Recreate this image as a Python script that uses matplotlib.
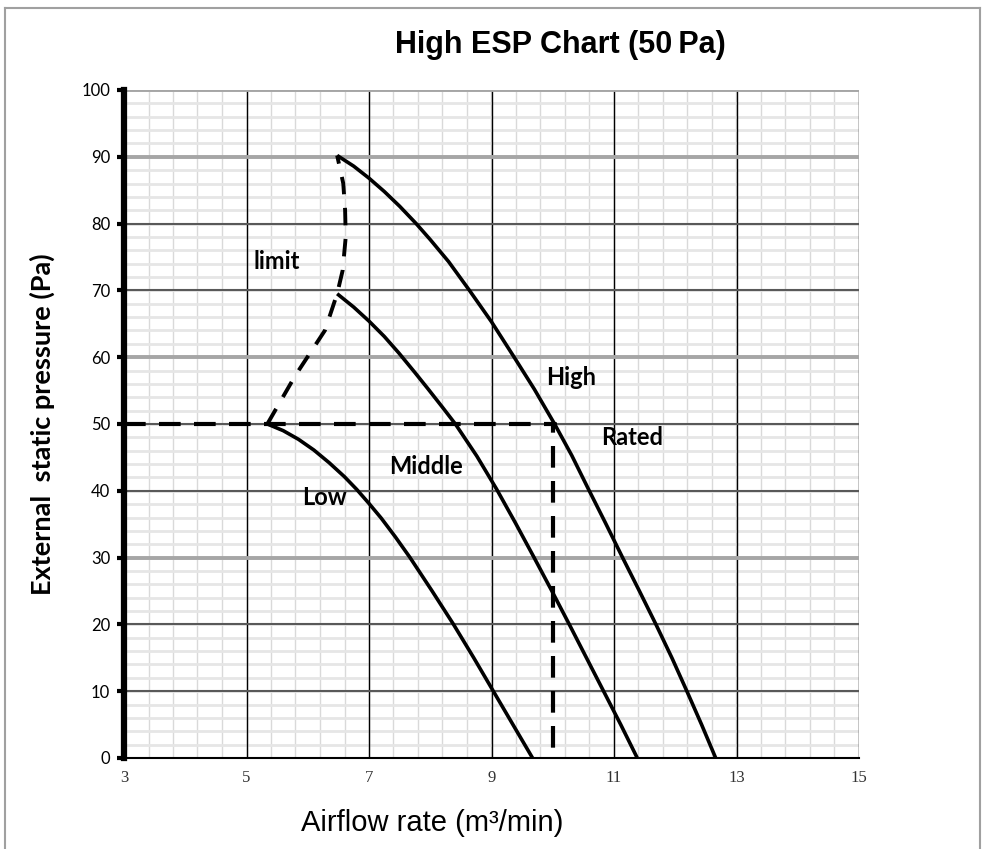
import matplotlib
matplotlib.use('Agg')
import matplotlib.pyplot as plt
from matplotlib.lines import Line2D
import numpy as np

# ---- data ----
high_x = [6.48, 6.75, 7.0, 7.25, 7.5, 7.77, 8.0, 8.3, 8.64, 9.0, 9.37, 9.7, 10.03, 10.31, 10.58, 10.86, 11.14, 11.42, 11.69, 11.95, 12.19, 12.43, 12.66]
high_y = [90.2, 88.6, 86.8, 84.8, 82.6, 80, 77.6, 74.3, 70, 65.3, 60, 55.2, 50, 45.3, 40.3, 35.2, 30, 24.9, 19.9, 14.9, 10, 5, 0]
mid_x = [6.48, 6.75, 7.0, 7.25, 7.49, 7.75, 7.96, 8.2, 8.41, 8.76, 9.08, 9.39, 9.69, 9.98, 10.27, 10.55, 10.83, 11.11, 11.38]
mid_y = [69.5, 67.5, 65.4, 63.1, 60.6, 57.7, 55.3, 52.5, 50, 45.2, 40.3, 35.2, 30.1, 25.1, 20, 15, 10, 5, 0]
low_x = [5.34, 5.6, 5.85, 6.1, 6.35, 6.6, 6.8, 7.0, 7.2, 7.43, 7.67, 8.03, 8.38, 8.71, 9.03, 9.35, 9.67]
low_y = [50, 49.0, 47.7, 46.1, 44.2, 42.1, 40.2, 38.1, 35.9, 33.1, 30, 25, 20, 15, 10, 5, 0]
limit_x = [5.34, 5.8, 6.28, 6.48, 6.57, 6.62, 6.61, 6.58, 6.48]
limit_y = [50, 57.3, 64, 69.5, 73, 78, 82, 86, 90.2]
rated_x = [3, 10.03, 10.0, 10.0]
rated_y = [50, 50, 50, 0]

x_ticks = [3, 5, 7, 9, 11, 13, 15]
y_ticks = [0, 10, 20, 30, 40, 50, 60, 70, 80, 90, 100]
gray_major_y = [30, 60, 90, 100]

labels = [("limit", 5.5, 74.3), ("High", 10.3, 57.0), ("Rated", 11.3, 48.0),
          ("Middle", 7.93, 43.6), ("Low", 6.27, 39.0)]

W, H = 982, 849
fig = plt.figure(figsize=(W / 100, H / 100), dpi=100)
ax = fig.add_axes([124 / W, 1 - 758 / H, (859 - 124) / W, (758 - 90) / H])
ax.set_xlim(3, 15)
ax.set_ylim(0, 100)

# minor grid
for xv in np.arange(3, 15.001, 0.4):
    ax.axvline(xv, color='#d9d9d9', lw=1.0, zorder=0)
for yv in np.arange(0, 100.001, 2):
    ax.axhline(yv, color='#e6e6e6', lw=2.0, zorder=0)
# major grid
for xv in x_ticks[1:]:
    ax.axvline(xv, color='black', lw=1.0, zorder=1)
for yv in y_ticks[1:]:
    if yv in gray_major_y:
        ax.axhline(yv, color='#a6a6a6', lw=2.8, zorder=1)
    else:
        ax.axhline(yv, color='#595959', lw=1.5, zorder=1)

# curves
for xs, ys in [(high_x, high_y), (mid_x, mid_y), (low_x, low_y)]:
    ax.plot(xs, ys, color='black', lw=2.6, zorder=3, solid_capstyle='butt', solid_joinstyle='round')
ax.plot(limit_x, limit_y, color='black', lw=2.8, ls=(0, (4.5, 3.5)), zorder=3)
ax.plot(rated_x, rated_y, color='black', lw=3.0, ls=(0, (5.2, 3.2)), zorder=3)

for txt, xv, yv in labels:
    ax.text(xv, yv, txt, fontsize=17, fontweight='bold', family=['Lato', 'DejaVu Sans'],
            ha='center', va='center', zorder=4)

# axes styling
for s in ['top', 'right']:
    ax.spines[s].set_visible(False)
ax.spines['left'].set_linewidth(4.5)
ax.spines['bottom'].set_linewidth(1.5)
ax.set_xticks(x_ticks)
ax.set_yticks(y_ticks)
ax.set_xticklabels([str(v) for v in x_ticks], family=['Liberation Serif', 'DejaVu Serif'], fontsize=12, color='#333333')
ax.set_yticklabels([str(v) for v in y_ticks], family=['Lato', 'DejaVu Sans'], fontsize=12)
ax.tick_params(axis='y', length=5, width=3, pad=5)
ax.tick_params(axis='x', length=0, pad=9)

ax.set_ylabel("External  static pressure (Pa)", fontsize=19.5, fontweight='bold',
              family=['Lato', 'DejaVu Sans'], labelpad=19)
ax.set_xlabel("Airflow rate (m\u00b3/min)", fontsize=21, family=['Liberation Sans', 'DejaVu Sans'], labelpad=4)
ax.xaxis.set_label_coords((432 - 124) / (859 - 124), -0.076)
fig.text(560 / W, 1 - 45 / H, "High ESP Chart (50\u2009Pa)", fontsize=22, fontweight='bold',
         family=['Liberation Sans Narrow', 'Liberation Sans', 'DejaVu Sans'], ha='center', va='center')

# figure border
for (x0, y0, x1, y1) in [(5, 8, 980, 8), (5, 8, 5, 849), (980, 8, 980, 849)]:
    fig.add_artist(Line2D([x0 / W, x1 / W], [1 - y0 / H, 1 - y1 / H], color='#a0a0a0', lw=1.5,
                          transform=fig.transFigure))

fig.savefig('out.png', dpi=100)
